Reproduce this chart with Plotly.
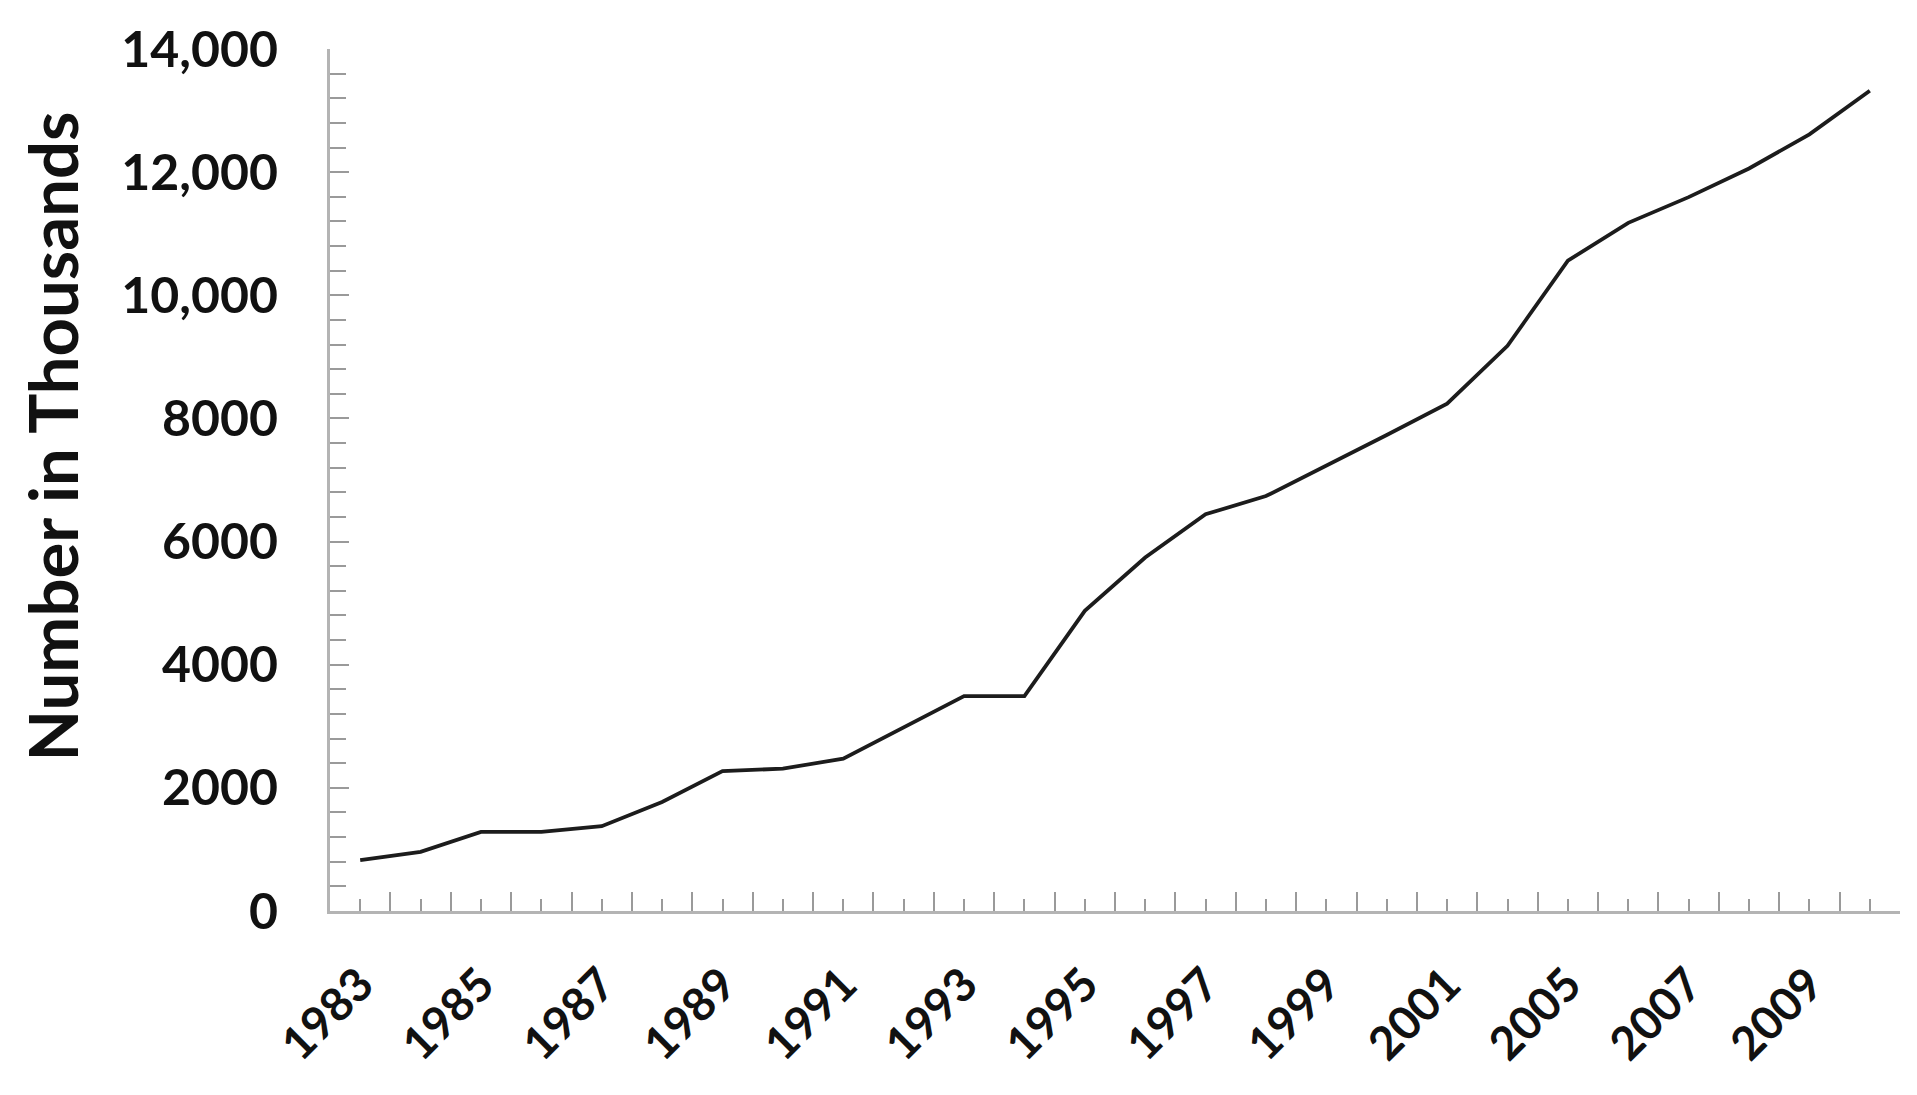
import plotly.graph_objects as go

# ---- data ----
years = ["1983", "1984", "1985", "1986", "1987", "1988", "1989", "1990", "1991",
         "1992", "1993", "1994", "1995", "1996", "1997", "1998", "1999", "2000",
         "2001", "2003", "2005", "2006", "2007", "2008", "2009", "2010"]
values = [826, 961, 1285, 1285, 1377, 1771, 2273, 2311, 2475,
          2990, 3490, 3490, 4876, 5740, 6443, 6739, 7230, 7730,
          8240, 9180, 10562, 11177, 11594, 12060, 12613, 13323]
y_tickvals = [0, 2000, 4000, 6000, 8000, 10000, 12000, 14000]
y_ticktext = ["0", "2000", "4000", "6000", "8000", "10,000", "12,000", "14,000"]
x_ticktext = [y if i % 2 == 0 else "" for i, y in enumerate(years)]
y_title = "Number in Thousands"

AXIS_GRAY = "#b4b4b4"
TICK_GRAY = "#9a9a9a"
FONT = "Lato"

fig = go.Figure()
fig.add_trace(go.Scatter(
    x=years, y=values, mode="lines",
    line=dict(color="#1c1c1c", width=3.8),
    showlegend=False, hoverinfo="x+y",
))
# invisible helper trace on overlay axis (carries category-boundary ticks)
fig.add_trace(go.Scatter(
    x=list(range(len(years))), y=values, mode="lines",
    line=dict(color="rgba(0,0,0,0)", width=0), xaxis="x2",
    showlegend=False, hoverinfo="skip",
))

# page body has an 8px default margin; size the figure to fit the window
fig.update_layout(
    width=1901, height=1079,
    paper_bgcolor="white", plot_bgcolor="white",
    margin=dict(l=322, r=9, t=39, b=176),
    font=dict(family=FONT, color="#111111"),
    xaxis=dict(
        type="category",
        range=[-0.5, len(years) - 0.5],
        tickmode="array", tickvals=years, ticktext=x_ticktext,
        tickangle=-45,
        ticks="inside", ticklen=12, tickwidth=2, tickcolor=TICK_GRAY,
        showline=True, linecolor=AXIS_GRAY, linewidth=3,
        showgrid=False, zeroline=False,
        tickfont=dict(family=FONT, size=46, color="#111111", weight=700),
        ticklabelstandoff=25,
    ),
    xaxis2=dict(
        overlaying="x", anchor="y", side="bottom",
        range=[-0.5, len(years) - 0.5],
        tickmode="array",
        tickvals=[i - 0.5 for i in range(len(years) + 1)],
        ticks="inside", ticklen=19, tickwidth=2, tickcolor=TICK_GRAY,
        showticklabels=False, showline=False, showgrid=False, zeroline=False,
    ),
    yaxis=dict(
        range=[0, 14000],
        tickmode="array", tickvals=y_tickvals, ticktext=y_ticktext,
        ticks="inside", ticklen=19, tickwidth=2, tickcolor=TICK_GRAY,
        minor=dict(tick0=0, dtick=400, ticks="inside", ticklen=16,
                   tickwidth=2, tickcolor=TICK_GRAY, showgrid=False),
        showline=True, linecolor=AXIS_GRAY, linewidth=3,
        showgrid=False, zeroline=False,
        tickfont=dict(family=FONT, size=50, color="#111111", weight=700),
        ticklabelstandoff=39,
    ),
    annotations=[dict(
        text=y_title, textangle=-90,
        xref="paper", yref="paper", x=-0.1768, y=0.551,
        xanchor="center", yanchor="middle", showarrow=False,
        font=dict(family=FONT, size=67, color="#111111", weight=700),
    )],
)

fig.write_html("out.html")
